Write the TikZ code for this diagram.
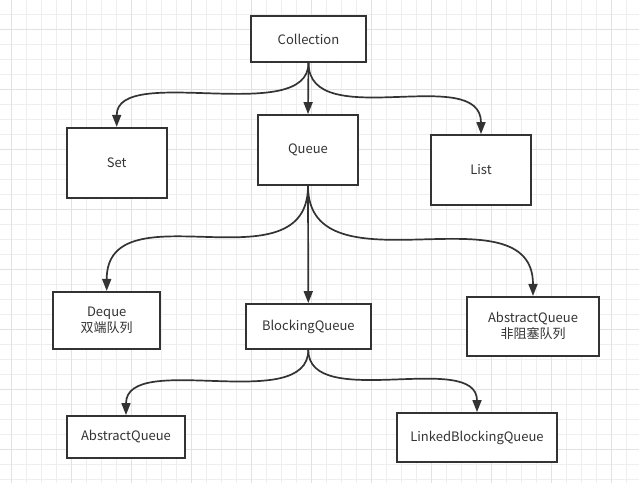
\documentclass[tikz,border=0pt]{standalone}
\usepackage{fontspec}
\setmainfont{Noto Sans CJK SC}
\usetikzlibrary{arrows.meta}
\usepackage{xcolor}
\definecolor{inkgray}{HTML}{333333}
\definecolor{gridminor}{HTML}{EEEEEE}
\definecolor{gridmajor}{HTML}{E2E2E2}

\begin{document}
\begin{tikzpicture}[x=1pt,y=-1pt,
  box/.style={draw=inkgray,line width=1.8pt,fill=white,inner sep=0pt,align=center,
    text=inkgray,font=\fontsize{13}{16}\selectfont},
  link/.style={draw=inkgray,line width=1.7pt,-{Triangle[length=12pt,width=9pt]}},
  curve/.style={to path={.. controls (\tikztostart |- \tikztotarget) and (\tikztotarget |- \tikztostart) .. (\tikztotarget)}}]
\useasboundingbox[fill=white] (0,0) rectangle (639,483);
% background grid
\foreach \k in {0,...,41} \draw[gridminor,line width=1pt] ({11.7+15*\k},0) -- ({11.7+15*\k},483);
\foreach \k in {0,...,31} \draw[gridminor,line width=1pt] (0,{14.3+15*\k}) -- (639,{14.3+15*\k});
\foreach \k in {0,...,10} \draw[gridmajor,line width=1pt] ({11.7+60*\k},0) -- ({11.7+60*\k},483);
\foreach \k in {0,...,7} \draw[gridmajor,line width=1pt] (0,{29.3+60*\k}) -- (639,{29.3+60*\k});
% boxes
\node[box,minimum width=115pt,minimum height=46pt] (coll) at (308.5,39) {Collection};
\node[box,minimum width=100pt,minimum height=70pt] (set) at (116.7,162.7) {Set};
\node[box,minimum width=100pt,minimum height=70pt] (queue) at (308,150) {Queue};
\node[box,minimum width=100pt,minimum height=70pt] (list) at (481,170) {List};
\node[box,minimum width=107pt,minimum height=57pt] (deque) at (106.7,320.3) {Deque\\双端队列};
\node[box,minimum width=125pt,minimum height=45pt] (bq) at (308.3,326.5) {BlockingQueue};
\node[box,minimum width=132pt,minimum height=59pt] (aq) at (533,326.3) {AbstractQueue\\非阻塞队列};
\node[box,minimum width=118pt,minimum height=42pt] (absq) at (126,437) {AbstractQueue};
\node[box,minimum width=160pt,minimum height=49pt] (lbq) at (477,437.5) {LinkedBlockingQueue};
% arrows
\draw[link] (coll.south) to[curve] (set.north);
\draw[link] (coll.south) -- (queue.north);
\draw[link] (coll.south) to[curve] (list.north);
\draw[link] (queue.south) to[curve] (deque.north);
\draw[link] (queue.south) -- (bq.north);
\draw[link] (queue.south) to[curve] (aq.north);
\draw[link] (bq.south) to[curve] (absq.north);
\draw[link] (bq.south) to[curve] (lbq.north);
\end{tikzpicture}
\end{document}
